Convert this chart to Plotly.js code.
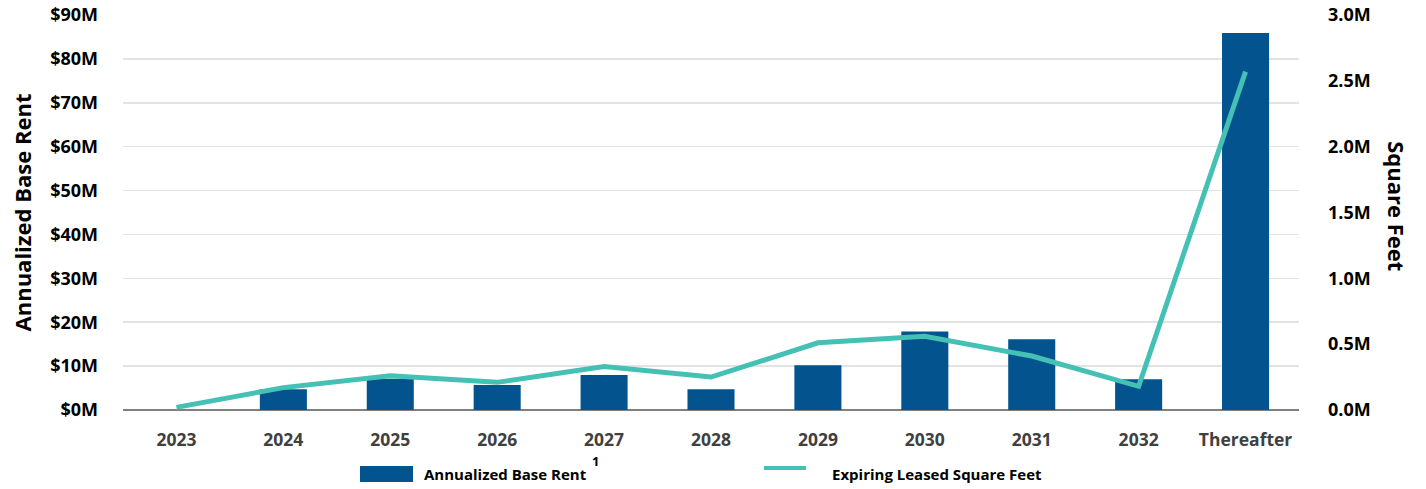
<!DOCTYPE html>
<html>
<head>
<meta charset="utf-8">
<script src="https://cdn.plot.ly/plotly-3.0.1.min.js"></script>
<style>
  html, body { margin: 0; padding: 0; background: #ffffff; }
  #chart { width: 1426px; height: 489px; }
</style>
</head>
<body>
<div id="chart"></div>
<script>
// ---- Data ----
const categories = ["2023", "2024", "2025", "2026", "2027", "2028", "2029", "2030", "2031", "2032", "Thereafter"];
// Annualized Base Rent, $ millions
const baseRentM = [0, 4.7, 7.1, 5.7, 8.0, 4.7, 10.2, 17.9, 16.1, 7.0, 85.9];
// Expiring leased square feet, millions
const sqftM = [0.02, 0.17, 0.26, 0.21, 0.33, 0.25, 0.51, 0.56, 0.41, 0.18, 2.57];
const rentTicks = [0, 10, 20, 30, 40, 50, 60, 70, 80, 90];
const rentTickLabels = ["$0M", "$10M", "$20M", "$30M", "$40M", "$50M", "$60M", "$70M", "$80M", "$90M"];
const sqftTicks = [0, 0.5, 1.0, 1.5, 2.0, 2.5, 3.0];
const sqftTickLabels = ["0.0M", "0.5M", "1.0M", "1.5M", "2.0M", "2.5M", "3.0M"];
const rentSeriesName = "Annualized Base Rent";
const sqftSeriesName = "Expiring Leased Square Feet";

const FONT = "'Open Sans', 'Liberation Sans', sans-serif";
const BAR_COLOR = "#03538F";
const LINE_COLOR = "#45C0B5";

const traces = [
  {
    type: "bar",
    name: rentSeriesName,
    x: categories,
    y: baseRentM,
    marker: { color: BAR_COLOR, line: { width: 0 } },
    yaxis: "y",
    showlegend: false,
    hoverinfo: "x+y"
  },
  {
    type: "scatter",
    mode: "lines",
    name: sqftSeriesName,
    x: categories,
    y: sqftM,
    line: { color: LINE_COLOR, width: 5 },
    yaxis: "y2",
    showlegend: false,
    hoverinfo: "x+y"
  }
];

const layout = {
  width: 1426,
  height: 489,
  paper_bgcolor: "#ffffff",
  plot_bgcolor: "#ffffff",
  margin: { l: 123, r: 127, t: 15, b: 79, pad: 0 },
  bargap: 0.56,
  showlegend: false,
  font: { family: FONT, color: "#000000" },
  xaxis: {
    type: "category",
    showgrid: false,
    showline: false,
    zeroline: false,
    ticks: "",
    ticklabelstandoff: 17,
    tickfont: { family: FONT, size: 17.5, weight: "bold", color: "#404040" },
    fixedrange: true
  },
  yaxis: {
    range: [0, 90],
    tickmode: "array",
    tickvals: rentTicks,
    ticktext: rentTickLabels,
    showgrid: true,
    gridcolor: "#e3e3e3",
    gridwidth: 1.5,
    zeroline: true,
    zerolinecolor: "#808080",
    zerolinewidth: 2,
    showline: false,
    ticks: "",
    ticklabelstandoff: 24,
    tickfont: { family: FONT, size: 18, weight: "bold", color: "#000000" },
    automargin: false,
    title: {
      text: "Annualized Base Rent",
      font: { family: FONT, size: 22, weight: "bold", color: "#000000" },
      standoff: 12
    },
    fixedrange: true
  },
  yaxis2: {
    overlaying: "y",
    side: "right",
    range: [0, 3],
    tickmode: "array",
    tickvals: sqftTicks,
    ticktext: sqftTickLabels,
    showgrid: false,
    zeroline: false,
    showline: false,
    ticks: "",
    ticklabelstandoff: 28,
    tickfont: { family: FONT, size: 18, weight: "bold", color: "#000000" },
    automargin: false,
    fixedrange: true
  },
  shapes: [
    // legend swatch: bars
    { type: "rect", xref: "paper", yref: "paper",
      x0: 0.2015, x1: 0.2466, y0: -0.1823, y1: -0.1418,
      fillcolor: BAR_COLOR, line: { width: 0 } },
    // legend swatch: line
    { type: "line", xref: "paper", yref: "paper",
      x0: 0.545, x1: 0.5808, y0: -0.1468, y1: -0.1468,
      line: { color: LINE_COLOR, width: 4 } }
  ],
  annotations: [
    { xref: "paper", yref: "paper", x: 0.2543, y: -0.162,
      xanchor: "left", yanchor: "middle", showarrow: false,
      text: rentSeriesName,
      font: { family: FONT, size: 15, weight: "bold", color: "#000000" } },
    { xref: "paper", yref: "paper", x: 0.3970, y: -0.128,
      xanchor: "left", yanchor: "middle", showarrow: false,
      text: "1",
      font: { family: FONT, size: 13, weight: "bold", color: "#000000" } },
    { xref: "paper", yref: "paper", x: 0.6012, y: -0.162,
      xanchor: "left", yanchor: "middle", showarrow: false,
      text: sqftSeriesName,
      font: { family: FONT, size: 15, weight: "bold", color: "#000000" } },
    { xref: "paper", yref: "paper", x: 1.0833, y: 0.516,
      xanchor: "center", yanchor: "middle", showarrow: false,
      textangle: 90,
      text: "Square Feet",
      font: { family: FONT, size: 22, weight: "bold", color: "#000000" } }
  ]
};

Plotly.newPlot("chart", traces, layout, { displayModeBar: false, staticPlot: true });
</script>
</body>
</html>
